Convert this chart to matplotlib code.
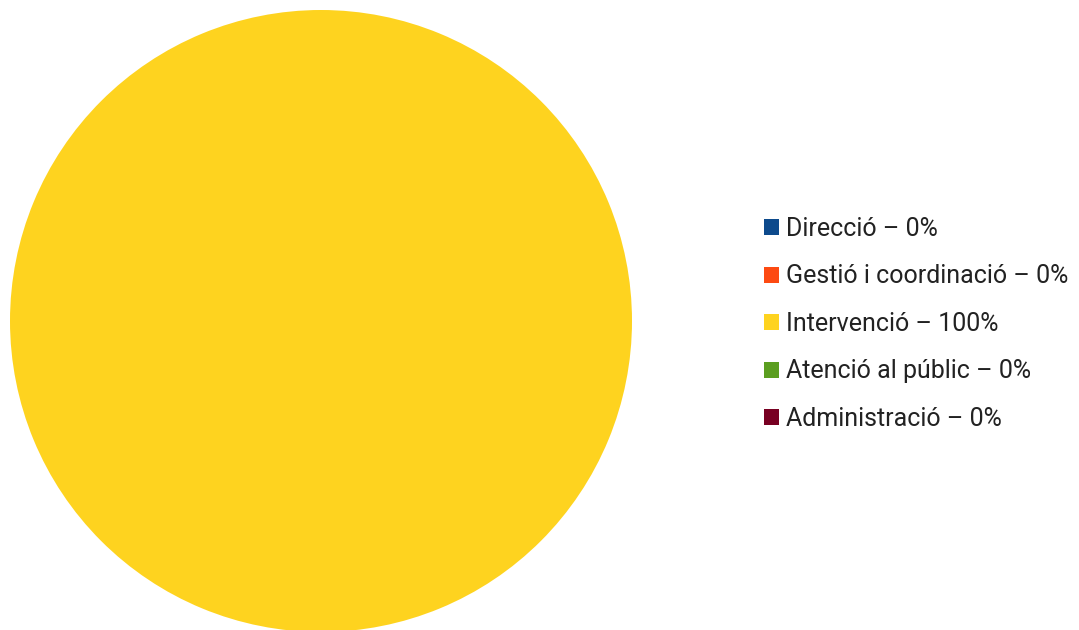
import matplotlib.pyplot as plt

categories = ["Direcció", "Gestió i coordinació", "Intervenció", "Atenció al públic", "Administració"]
shares = [0, 0, 100, 0, 0]
colors = ["#0d4a8c", "#fd4a12", "#fed31f", "#5b9e20", "#780022"]

plt.rcParams["font.family"] = ["Roboto", "DejaVu Sans"]

fig = plt.figure(figsize=(10.79, 6.30), dpi=100)
ax = fig.add_axes([10 / 1079, -2 / 630, 622 / 1079, 622 / 630])
wedges, _ = ax.pie(shares, colors=colors, startangle=90, counterclock=False, radius=1)
ax.set_xlim(-1, 1)
ax.set_ylim(-1, 1)
ax.set_aspect("equal")
ax.axis("off")

labels = [f"{c} – {v}%" for c, v in zip(categories, shares)]
leg = fig.legend(wedges, labels, loc="center left", bbox_to_anchor=(764 / 1079, 1 - 324 / 630),
                 frameon=False, fontsize=18, handlelength=0.6, handleheight=0.6,
                 handletextpad=0.27, labelspacing=0.94, borderpad=0, borderaxespad=0)
for t in leg.get_texts():
    t.set_color("#222222")

fig.savefig("out.png", dpi=100)
